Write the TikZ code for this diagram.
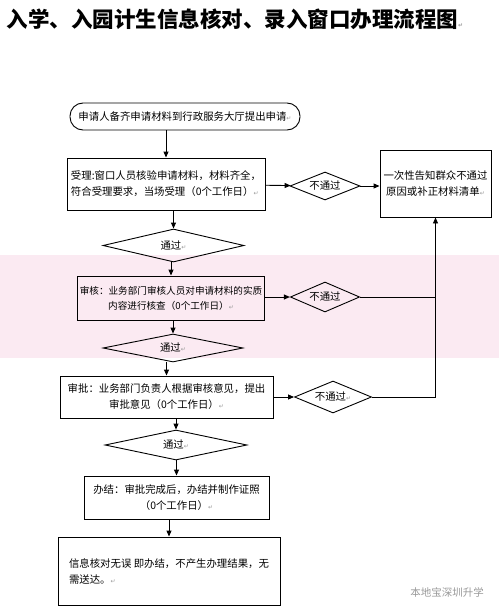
\documentclass[tikz,border=0pt]{standalone}
\usepackage{fontspec}
\setmainfont{Noto Sans CJK SC}
\newfontfamily\symfont{DejaVu Sans}
\usetikzlibrary{shapes.geometric,arrows.meta}
\definecolor{bandpink}{HTML}{FBEAF2}
\newcommand{\ret}{{\symfont\color{black!40}\fontsize{6}{6}\selectfont ↵}}

\begin{document}
\begin{tikzpicture}[x=1pt,y=-1pt,>={Triangle[length=6pt,width=5pt]}]
    \tikzset{
        box/.style={draw, rectangle, line width=0.9pt, inner sep=2pt, font=\fontsize{10.4}{16}\selectfont},
        cond/.style={draw, diamond, aspect=4, inner sep=0pt, line width=0.9pt, font=\fontsize{10.4}{12}\selectfont},
        arc/.style={->, line width=0.9pt}
    }
    \useasboundingbox (0,0) rectangle (499,615);
    \fill[bandpink] (0,255) rectangle (499,358);

    \node[anchor=west, font=\fontsize{21.5}{23}\selectfont\bfseries] (title) at (3,19) {入学、入园计生信息核对、录入窗口办理流程图\ret};

    \draw node[box, rounded corners=13pt, minimum width=230pt, minimum height=27pt] (start) at (185,116.5) {申请人备齐申请材料到行政服务大厅提出申请\ret};
    \draw node[box, minimum width=198pt, minimum height=52pt, align=left] (accept) at (166,184) {受理:窗口人员核验申请材料，材料齐全，\\符合受理要求，当场受理（0个工作日）\ret};
    \draw node[cond, minimum width=141pt, minimum height=33pt] (pass1) at (173.5,245.5) {通过\ret};
    \draw node[cond, minimum width=70pt, minimum height=28pt] (fail1) at (325,186) {不通过};
    \draw node[box, minimum width=111pt, minimum height=67pt, align=center] (notice) at (435.5,183.5) {一次性告知群众不通过\\原因或补正材料清单\ret};
    \draw node[box, minimum width=182pt, minimum height=44pt, align=center, font=\fontsize{9.6}{15}\selectfont] (review) at (171,298) {审核：业务部门审核人员对申请材料的实质\\内容进行核查（0个工作日）\ret};
    \draw node[cond, minimum width=60pt, minimum height=30pt] (fail2) at (325,297) {不通过};
    \draw node[cond, minimum width=140pt, minimum height=28pt] (pass2) at (173,348) {通过\ret};
    \draw node[box, minimum width=213pt, minimum height=42pt, align=center] (approve) at (166.5,397) {审批：业务部门负责人根据审核意见，提出\\审批意见（0个工作日）\ret};
    \draw node[cond, minimum width=77pt, minimum height=32pt] (fail3) at (333,397) {不通过\ret};
    \draw node[cond, minimum width=142pt, minimum height=30pt] (pass3) at (176,445) {通过\ret};
    \draw node[box, minimum width=185pt, minimum height=43pt, align=center] (finish) at (176.5,497.5) {办结：审批完成后，办结并制作证照\\（0个工作日）\ret};
    \draw node[box, minimum width=222pt, minimum height=68pt, align=left] (result) at (169,571) {信息核对无误 即办结，不产生办理结果，无\\需送达。\ret};

    \node[text=black!40, font=\fontsize{10.5}{12}\selectfont] (mark) at (447,592) {本地宝深圳升学};

    \coordinate (turn) at (notice.south |- fail3.east);

    % down the main line
    \foreach \x/\y in {%
        start/accept, accept/pass1, pass1/review, review/pass2,%
        pass2/approve, approve/pass3, pass3/finish, finish/result%
    }{
        \draw[arc] (\y.north |- \x.south) -- (\y.north);
    }

    \draw[arc] (accept) -- (fail1);
    \draw[arc] (fail1) -- (notice.west |- fail1.east);
    \draw[arc] (review.east |- fail2.west) -- (fail2);
    \draw[line width=0.9pt] (fail2.east) -- (fail2.east -| turn);
    \draw[arc] (approve.east |- fail3.west) -- (fail3);
    \draw[arc] (fail3.east) -- (turn) -- (notice.south);
\end{tikzpicture}
\end{document}
